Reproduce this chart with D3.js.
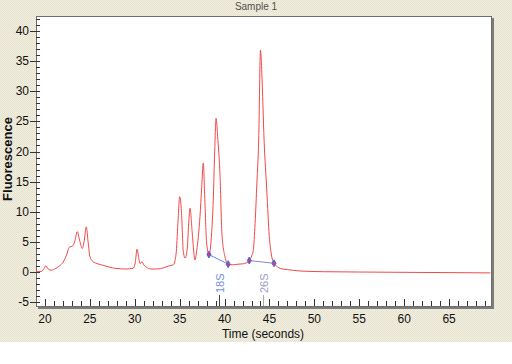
<!DOCTYPE html>
<html lang="en">
<head>
<meta charset="utf-8">
<title>Sample 1</title>
<script src="https://d3js.org/d3.v7.min.js"></script>
<style>
  body { margin: 0; background: #fff; }
  text { font-family: "Liberation Sans", Arial, sans-serif; }
</style>
</head>
<body>
<svg width="512" height="364"></svg>
<script>
    // electropherogram trace
    var times = [19.0, 19.6, 19.9, 20.1, 20.35, 20.7, 21.2, 21.6, 22.0, 22.4, 22.7, 23.1, 23.3, 23.6, 23.85,
        24.15, 24.35, 24.6, 24.8, 25.0, 25.3, 25.8, 26.4, 27.2, 27.9, 29.0, 29.8, 30.05, 30.25, 30.45,
        30.6, 30.8, 31.0, 31.3, 31.8, 32.5, 33.2, 33.8, 34.3, 34.6, 34.8, 35.0, 35.2, 35.4, 35.6,
        35.85, 36.0, 36.15, 36.4, 36.7, 36.9, 37.26, 37.45, 37.63, 37.8, 38.0, 38.26, 38.56, 38.74, 38.9,
        39.05, 39.25, 39.5, 39.7, 40.05, 40.4, 41.0, 41.5, 42.0, 42.4, 42.75, 43.05, 43.2, 43.4, 43.6,
        43.8, 44.0, 44.15, 44.4, 44.7, 44.98, 45.2, 45.5, 45.9, 46.2, 47.0, 48.4, 49.5, 51.0, 55.0,
        60.0, 65.0, 69.6];
    var fluor = [0.05, 0.1, 0.6, 1.05, 0.5, 0.3, 0.6, 1.0, 1.6, 2.8, 4.1, 4.35, 5.0, 6.7, 5.3,
        3.9, 5.0, 7.5, 5.0, 2.6, 1.8, 1.4, 1.15, 0.8, 0.6, 0.5, 0.6, 1.5, 3.8, 2.2,
        1.4, 1.7, 1.2, 0.8, 0.5, 0.5, 0.7, 1.0, 1.2, 3.0, 8.0, 12.5, 10.0, 3.5, 2.3,
        4.0, 8.0, 10.6, 6.5, 2.0, 3.6, 9.2, 14.0, 18.1, 12.0, 4.8, 2.9, 6.5, 11.9, 20.0,
        25.5, 22.0, 15.8, 6.5, 2.5, 1.3, 1.2, 1.3, 1.35, 1.5, 1.9, 2.8, 3.6, 8.1, 14.8,
        21.9, 36.8, 33.0, 21.9, 13.6, 5.9, 3.0, 1.45, 0.85, 0.6, 0.4, 0.17, 0.1, 0.05, 0.0,
        -0.05, -0.1, -0.15];

    // peak window markers (start/end of the two rRNA peaks)
    var markTimes = [38.26, 40.4, 42.75, 45.5];
    var markVals = [2.9, 1.3, 1.9, 1.45];
    var peakNames = ["18S", "26S"];
    var peakTimes = [39.4, 44.3];

    var xTicks = [20, 25, 30, 35, 40, 45, 50, 55, 60, 65];
    var yTicks = [-5, 0, 5, 10, 15, 20, 25, 30, 35, 40];

    var svg = d3.select("svg");
    var defs = svg.append("defs");
    var pat = defs.append("pattern").attr("id", "dots")
        .attr("width", 2).attr("height", 2).attr("patternUnits", "userSpaceOnUse");
    pat.append("rect").attr("width", 2).attr("height", 2).attr("fill", "#f1eee0");
    pat.append("rect").attr("width", 1).attr("height", 1).attr("fill", "#e6e2cf");
    pat.append("rect").attr("x", 1).attr("y", 1).attr("width", 1).attr("height", 1).attr("fill", "#e8e4d2");

    svg.append("rect").attr("width", 512).attr("height", 342).attr("fill", "url(#dots)");

    var pL = 36, pT = 16, pR = 491, pB = 306;

    var x = d3.scaleLinear().domain([19.0, 69.67]).range([pL, pR]);
    var y = d3.scaleLinear().domain([-5.64, 42.49]).range([pB, pT]);

    // plot box with shadow
    svg.append("rect").attr("x", pL + 2).attr("y", pT + 2)
        .attr("width", pR - pL + 1).attr("height", pB - pT + 1).attr("fill", "#7c7c7c");
    svg.append("rect").attr("x", pL + 0.5).attr("y", pT + 0.5)
        .attr("width", pR - pL).attr("height", pB - pT)
        .attr("fill", "#fff").attr("stroke", "#6e6e6e").attr("stroke-width", 1);

    svg.append("text").attr("x", 256).attr("y", 10).attr("text-anchor", "middle")
        .attr("font-size", 10).attr("fill", "#505050").text("Sample 1");

    // x axis: ticks point up into the plot
    var gx = svg.append("g");
    gx.selectAll("line").data(d3.range(20, 70)).enter().append("line")
        .attr("x1", function(d){ return Math.round(x(d)) + 0.5; })
        .attr("x2", function(d){ return Math.round(x(d)) + 0.5; })
        .attr("y1", pB).attr("y2", function(d){ return d % 5 == 0 ? pB - 7 : pB - 5; })
        .attr("stroke", "#333");
    gx.selectAll("text").data(xTicks).enter().append("text")
        .attr("x", function(d){ return x(d); }).attr("y", 323)
        .attr("text-anchor", "middle").attr("font-size", 12).attr("fill", "#111")
        .text(function(d){ return d; });

    // y axis
    var gy = svg.append("g");
    gy.selectAll("line").data(d3.range(-5, 43)).enter().append("line")
        .attr("y1", function(d){ return Math.round(y(d)) + 0.5; })
        .attr("y2", function(d){ return Math.round(y(d)) + 0.5; })
        .attr("x1", function(d){ return d % 5 == 0 ? pL - 6 : pL; }).attr("x2", pL + 4)
        .attr("stroke", "#333");
    gy.selectAll("text").data(yTicks).enter().append("text")
        .attr("x", 29).attr("y", function(d){ return y(d) + 4; })
        .attr("text-anchor", "end").attr("font-size", 12).attr("fill", "#111")
        .text(function(d){ return d; });

    svg.append("text").attr("transform", "translate(12,159) rotate(-90)")
        .attr("text-anchor", "middle").attr("font-size", 13).attr("font-weight", "bold")
        .attr("fill", "#111").text("Fluorescence");
    svg.append("text").attr("x", 263).attr("y", 338).attr("text-anchor", "middle")
        .attr("font-size", 12).attr("fill", "#111").text("Time (seconds)");

    // peak labels
    var labColors = ["#6f8fe0", "#9c9cc8"];
    var lineColors = ["#444", "#aaa"];
    peakNames.forEach(function(name, i){
        var px = Math.round(x(peakTimes[i])) + 0.5;
        svg.append("line").attr("x1", px).attr("x2", px).attr("y1", 295).attr("y2", pB)
            .attr("stroke", lineColors[i]);
        svg.append("text").attr("transform", "translate(" + (px + 4) + ",293) rotate(-90)")
            .attr("font-size", 11).attr("fill", labColors[i]).text(name);
    });

    var line = d3.line()
        .x(function(d, i){ return x(times[i]); })
        .y(function(d){ return y(d); })
        .curve(d3.curveMonotoneX);

    svg.append("path").datum(fluor).attr("d", line)
        .attr("fill", "none").attr("stroke", "#f24848").attr("stroke-width", 1);

    // baseline segments between markers
    var segColors = ["#5a8ef0", "#8a8ac8"];
    [0, 2].forEach(function(k, j){
        svg.append("line")
            .attr("x1", x(markTimes[k])).attr("y1", y(markVals[k]))
            .attr("x2", x(markTimes[k + 1])).attr("y2", y(markVals[k + 1]))
            .attr("stroke", segColors[j]).attr("stroke-width", 1);
    });
    svg.selectAll("path.mark").data(markTimes).enter().append("path")
        .attr("class", "mark")
        .attr("transform", function(d, i){ return "translate(" + x(d) + "," + y(markVals[i]) + ")"; })
        .attr("d", d3.symbol().type(d3.symbolDiamond).size(14))
        .attr("fill", "#d03a7a").attr("stroke", "#3a6ee8").attr("stroke-width", 1);
</script>
</body>
</html>
